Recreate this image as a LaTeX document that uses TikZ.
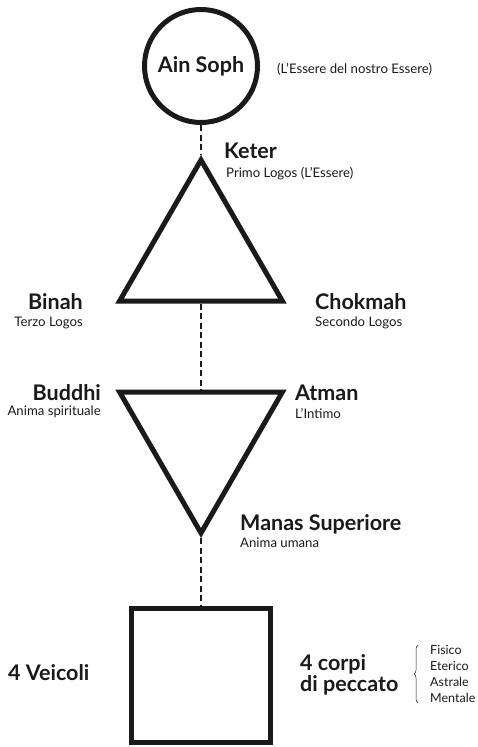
\documentclass[tikz,border=0pt]{standalone}
\usepackage{fontspec}
\setmainfont{Lato}
\usetikzlibrary{shapes.geometric,decorations.pathreplacing}

\definecolor{ink}{HTML}{1A1A1A}

\begin{document}
\begin{tikzpicture}[x=1pt,y=-1pt,color=ink,
	title/.style={inner sep=0pt,font=\fontsize{21.5}{19}\selectfont\bfseries},
	sub/.style={inner sep=0pt,font=\fontsize{13.2}{16}\selectfont},
	shell/.style={draw,line width=5pt,inner sep=0pt},
	tri/.style={shell,regular polygon,regular polygon sides=3,minimum size=188pt},
	link/.style={line width=1.3pt,dash pattern=on 6pt off 3.5pt}]
				\useasboundingbox (0,0) rectangle (477,747);
				% the four shapes, top to bottom
				\node[shell,circle,minimum size=113pt,title] (ainsoph) at (201,66) {Ain Soph};
				\node[tri] (upper) at (201,254) {};
				\node[tri,shape border rotate=180] (lower) at (201,439) {};
				\node[shell,minimum width=139pt,minimum height=134pt] (veicoli) at (201,675.5) {};
				\draw[link] (ainsoph) -- (upper.north);
				\draw[link] (upper.south) -- (lower.north);
				\draw[link] (lower.south) -- (veicoli.north);
				% labels
				\node[sub,anchor=base west] (essere) at (277,73) {(L’Essere del nostro Essere)};
				\node[title,anchor=base west] (keter) at (224,158) {Keter};
				\node[sub,anchor=base west] (primo) at (226,177) {Primo Logos (L’Essere)};
				\node[title,anchor=base east] (binah) at (83,309) {Binah};
				\node[sub,anchor=base east] (terzo) at (83,326) {Terzo Logos};
				\node[title,anchor=base west] (chokmah) at (315,309) {Chokmah};
				\node[sub,anchor=base west] (secondo) at (315,326) {Secondo Logos};
				\node[title,anchor=base east] (buddhi) at (101,400) {Buddhi};
				\node[sub,anchor=base east] (spirituale) at (101,415) {Anima spirituale};
				\node[title,anchor=base west] (atman) at (295,400) {Atman};
				\node[sub,anchor=base west] (intimo) at (295,418) {L’Intimo};
				\node[title,anchor=base west] (manas) at (240,530) {Manas Superiore};
				\node[sub,anchor=base west] (umana) at (240,547) {Anima umana};
				\node[title,anchor=base west] (quattro) at (8,680) {4 Veicoli};
				\node[title,align=left,anchor=west] (corpi) at (300,675) {4 corpi\\di peccato};
				\node[sub,font=\fontsize{12.5}{16}\selectfont,align=left,anchor=west] (corpilist) at (430,674) {Fisico\\Eterico\\Astrale\\Mentale};
				\draw[line width=0.5pt,decorate,decoration={brace,amplitude=4pt}]
					([xshift=-12pt]corpilist.south west) -- ([xshift=-12pt]corpilist.north west);
\end{tikzpicture}
\end{document}
